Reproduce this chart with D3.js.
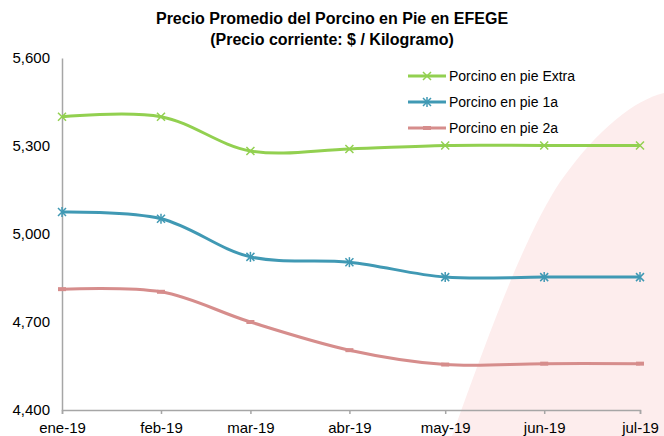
<!DOCTYPE html>
<html>
<head>
<meta charset="utf-8">
<script src="https://cdn.jsdelivr.net/npm/d3@7"></script>
<style>
  body { margin: 0; background: #fff; }
  svg text { font-family: "Liberation Sans", Arial, sans-serif; fill: #000; }
</style>
</head>
<body>
<svg id="chart" width="664" height="436"></svg>
<script>
// months (first day of each month)
var months = ["2019-01-01", "2019-02-01", "2019-03-01", "2019-04-01", "2019-05-01", "2019-06-01", "2019-07-01"];
var monthLabels = ["ene-19", "feb-19", "mar-19", "abr-19", "may-19", "jun-19", "jul-19"];

// series values ($ / kg)
var extra = [5400, 5400, 5283, 5290, 5302, 5302, 5302];
var primera = [5075, 5052, 4922, 4904, 4853, 4853, 4853];
var segunda = [4812, 4803, 4700, 4604, 4555, 4558, 4558];

var yTicks = [4400, 4700, 5000, 5300, 5600];

var series = [
  { name: "Porcino en pie Extra", values: extra, color: "#92d050", marker: "x" },
  { name: "Porcino en pie 1a", values: primera, color: "#4099b4", marker: "star" },
  { name: "Porcino en pie 2a", values: segunda, color: "#d68d8c", marker: "dash" }
];

var width = 664, height = 436;
var margin_l = 62, margin_r = 24, margin_t = 58, margin_b = 26;

var svg = d3.select("#chart");
var parse = d3.timeParse("%Y-%m-%d");
var dates = months.map(parse);

var x = d3.scaleTime()
  .domain([dates[0], dates[dates.length - 1]])
  .range([margin_l, width - margin_r]);

var y = d3.scaleLinear()
  .domain([4400, 5600])
  .range([height - margin_b, margin_t]);

// light pink background shape
svg.append("path")
  .attr("d", "M452,436 C490,330 525,235 560,182 C598,128 635,100 664,93 L664,436 Z")
  .attr("fill", "#fdeded");

// title
svg.append("text")
  .attr("x", 332).attr("y", 24)
  .attr("text-anchor", "middle")
  .style("font-size", "16px").style("font-weight", "bold")
  .text("Precio Promedio del Porcino en Pie en EFEGE");
svg.append("text")
  .attr("x", 332).attr("y", 45)
  .attr("text-anchor", "middle")
  .style("font-size", "16px").style("font-weight", "bold")
  .text("(Precio corriente: $ / Kilogramo)");

// y axis
var yAxis = svg.append("g")
  .attr("transform", "translate(" + margin_l + ",0)")
  .call(d3.axisLeft(y).tickValues(yTicks).tickSize(0).tickPadding(12).tickFormat(d3.format(",")));
yAxis.select(".domain").attr("stroke", "#a6a6a6").attr("stroke-width", 1.5);
yAxis.selectAll("text").style("font-size", "15px");

// x axis
var xAxis = svg.append("g")
  .attr("transform", "translate(0," + y(4400) + ")")
  .call(d3.axisBottom(x).tickValues(dates).tickSize(4).tickPadding(8)
    .tickFormat(function(d, i) { return monthLabels[i]; }));
xAxis.select(".domain").attr("stroke", "#a6a6a6").attr("stroke-width", 1.5);
xAxis.selectAll(".tick line").attr("stroke", "#a6a6a6").attr("stroke-width", 1.5);
xAxis.selectAll("text").style("font-size", "15px");

var line = d3.line()
  .x(function(d, i) { return x(dates[i]); })
  .y(function(d) { return y(d); })
  .curve(d3.curveCardinal);

function drawMarker(g, type, cx, cy, color) {
  var s = 4;
  if (type === "x" || type === "star") {
    g.append("path")
      .attr("d", "M" + (cx - s) + "," + (cy - s) + "L" + (cx + s) + "," + (cy + s) +
        "M" + (cx - s) + "," + (cy + s) + "L" + (cx + s) + "," + (cy - s))
      .attr("stroke", color).attr("stroke-width", 1.5);
  }
  if (type === "star") {
    g.append("path")
      .attr("d", "M" + cx + "," + (cy - s - 1) + "L" + cx + "," + (cy + s + 1))
      .attr("stroke", color).attr("stroke-width", 1.5);
  }
  if (type === "dash") {
    g.append("path")
      .attr("d", "M" + (cx - 4) + "," + cy + "L" + (cx + 4) + "," + cy)
      .attr("stroke", color).attr("stroke-width", 4);
  }
}

series.forEach(function(s) {
  var g = svg.append("g");
  g.append("path")
    .datum(s.values)
    .attr("d", line)
    .attr("fill", "none")
    .attr("stroke", s.color)
    .attr("stroke-width", 3);
  s.values.forEach(function(v, i) {
    drawMarker(g, s.marker, x(dates[i]), y(v), s.color);
  });
});

// legend
var legend = svg.append("g").attr("transform", "translate(408,76)");
series.forEach(function(s, i) {
  var row = legend.append("g").attr("transform", "translate(0," + (i * 26) + ")");
  row.append("line")
    .attr("x1", 0).attr("x2", 38).attr("y1", 0).attr("y2", 0)
    .attr("stroke", s.color).attr("stroke-width", 3);
  drawMarker(row, s.marker, 19, 0, s.color);
  row.append("text")
    .attr("x", 41).attr("y", 5)
    .style("font-size", "14px")
    .text(s.name);
});
</script>
</body>
</html>
